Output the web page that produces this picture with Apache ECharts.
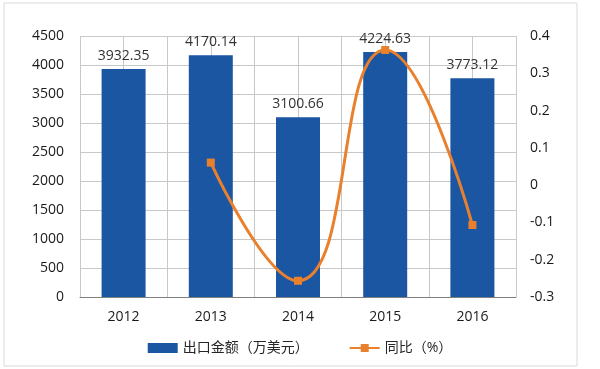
<!DOCTYPE html>
<html><head><meta charset="utf-8">
<script src="https://cdn.jsdelivr.net/npm/echarts@6/dist/echarts.min.js"></script>
<style>html,body{margin:0;padding:0;background:#fff}#c{width:600px;height:369px}</style>
</head><body><div id="c"></div>
<script>
const categories = ['2012','2013','2014','2015','2016'];
const exportValues = [3932.35, 4170.14, 3100.66, 4224.63, 3773.12];
const yoyValues = [null, 0.0605, -0.2565, 0.3625, -0.1069];
const barName = '出口金额（万美元）';
const lineName = '同比（%）';

const chart = echarts.init(document.getElementById('c'), null, {renderer:'canvas'});
const font = '"Open Sans","Noto Sans CJK SC",sans-serif';
chart.setOption({
  animation:false,
  backgroundColor:'#fff',
  graphic:[{type:'rect',shape:{x:4,y:3,width:573,height:363},style:{fill:'none',stroke:'#d9d9d9',lineWidth:1},z:-1}],
  grid:{left:80,right:84,top:36,bottom:72},
  legend:{bottom:9,left:'center',itemGap:40,itemWidth:30,itemHeight:10,
    textStyle:{fontFamily:font,fontSize:14,color:'#262626'},
    data:[{name:barName,icon:'rect'},{name:lineName}]},
  xAxis:[
    {type:'category',data:categories,axisTick:{show:false},
     axisLine:{lineStyle:{color:'#7f7f7f',width:1}},
     axisLabel:{fontFamily:font,fontSize:14,color:'#1a1a1a',margin:13},
     splitLine:{show:false}},
    {type:'value',min:0,max:10,interval:1,position:'top',
     axisLabel:{show:false},axisTick:{show:false},axisLine:{show:false},
     splitLine:{show:true,lineStyle:{color:'#c8c8c8',width:1}}}
  ],
  yAxis:[
    {type:'value',min:0,max:4500,interval:500,
     axisLine:{show:false},axisTick:{show:false},
     axisLabel:{fontFamily:font,fontSize:14,color:'#1a1a1a',margin:16,formatter:v=>String(v)},
     splitLine:{lineStyle:{color:'#c8c8c8',width:1}}},
    {type:'value',min:-0.3,max:0.4,interval:0.1,
     axisLine:{show:false},axisTick:{show:false},
     axisLabel:{fontFamily:font,fontSize:14,color:'#1a1a1a',margin:14,align:'left',
       formatter:v=>String(Math.round(v*10)/10)},
     splitLine:{show:false}}
  ],
  series:[
    {name:barName,type:'bar',data:exportValues,barWidth:44,xAxisIndex:0,yAxisIndex:0,
     itemStyle:{color:'#1B56A3'},
     label:{show:true,position:'top',distance:6,fontFamily:font,fontSize:14,color:'#333333',
       formatter:p=>p.value.toFixed(2)}},
    {name:lineName,type:'line',data:yoyValues,xAxisIndex:0,yAxisIndex:1,smooth:0.5,
     symbol:'rect',symbolSize:8,showSymbol:true,connectNulls:false,
     lineStyle:{color:'#E8802E',width:3},itemStyle:{color:'#E8802E'},z:5}
  ]
});
</script></body></html>
